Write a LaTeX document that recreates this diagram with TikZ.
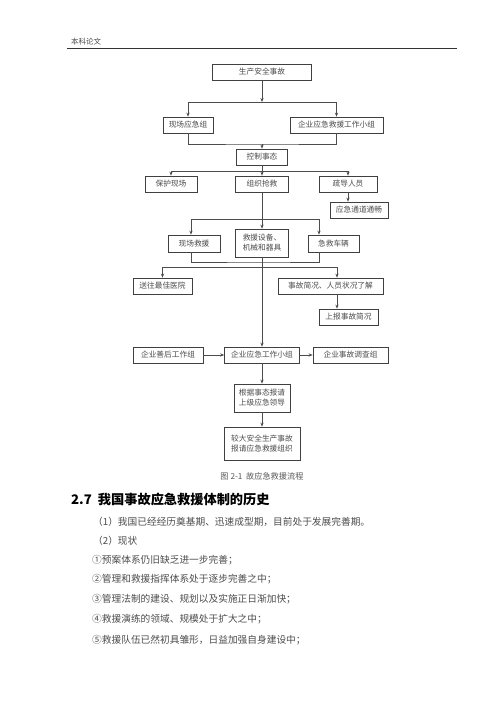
\documentclass[tikz,border=0pt]{standalone}
\usepackage{fontspec}
\newfontfamily\cjk{Noto Sans CJK SC}
\usetikzlibrary{arrows.meta}
\begin{document}
\begin{tikzpicture}[>={Stealth[length=4pt,width=3.2pt]},x=1pt,y=-1pt,
box/.style={draw=black!75,line width=.7pt,inner sep=0pt,minimum height=16pt,align=center,text=black!70,font=\cjk\fontsize{7.7}{10}\selectfont},
conn/.style={draw=black!70,line width=.7pt},
body/.style={anchor=west,inner sep=0pt,text=black!70,font=\cjk\fontsize{9.7}{12}\selectfont}]
\useasboundingbox[fill=white](0,0) rectangle (500,707);
\node[anchor=west,inner sep=0pt,text=black!70,font=\cjk\fontsize{7.5}{9}\selectfont](hdr) at (71,42){本科论文};
\draw[line width=.9pt,black!80](67,48)--(457,48);

\node[box,minimum width=99pt](acc) at (262,72){生产安全事故};
\node[box,minimum width=50pt](site) at (188,125){现场应急组};
\node[box,minimum width=93pt](corp) at (336.5,125){企业应急救援工作小组};
\node[box,minimum width=51pt](ctrl) at (262,157){控制事态};
\node[box,minimum width=52pt](prot) at (171,184){保护现场};
\node[box,minimum width=53pt](org) at (262,184){组织抢救};
\node[box,minimum width=58pt](evac) at (348,184){疏导人员};
\node[box,minimum width=58pt](chan) at (359,210){应急通道通畅};
\node[box,minimum width=52pt,minimum height=17pt](resc) at (194,243.5){现场救援};
\node[box,minimum width=53pt,minimum height=28pt](equip) at (262,243){救援设备、\\机械和器具};
\node[box,minimum width=51pt,minimum height=17pt](amb) at (333.5,243.5){急救车辆};
\node[box,minimum width=59pt](hosp) at (162.5,286){送往最佳医院};
\node[box,minimum width=105pt](info) at (330.5,286){事故简况、人员状况了解};
\node[box,minimum width=59pt](rep) at (348.5,317){上报事故简况};
\node[box,minimum width=70pt](after) at (168,355){企业善后工作组};
\node[box,minimum width=75pt](team) at (262,355){企业应急工作小组};
\node[box,minimum width=75pt](inv) at (350.5,355){企业事故调查组};
\node[box,minimum width=56pt,minimum height=28pt](lead) at (262,398){根据事态报请\\上级应急领导};
\node[box,minimum width=76pt,minimum height=33pt](big) at (262,443.5){较大安全生产事故\\报请应急救援组织};

\coordinate(j1) at (262,102);
\coordinate(j2) at (262,144);
\coordinate(j3) at (262,171);
\coordinate(j4) at (262,219);
\coordinate(j5) at (262,262);
\coordinate(j6) at (262,267);
\draw[conn,->](acc)--(j1);
\draw[conn,->](j1)-|(site);
\draw[conn,->](j1)-|(corp);
\draw[conn](site)|-(j2)-|(corp);
\draw[conn,->](j2)--(ctrl);
\draw[conn](ctrl)--(j3);
\draw[conn,->](j3)-|(prot);
\draw[conn,->](j3)--(org);
\draw[conn,->](j3)-|(evac);
\draw[conn,->](evac)--(evac|-chan.north);
\draw[conn,->](org)--(equip);
\draw[conn,->](j4)-|([xshift=-3pt]resc.north);
\draw[conn,->](j4)-|([xshift=-14.5pt]amb.north);
\draw[conn]([xshift=-3pt]resc.south)|-(j5)-|([xshift=-14.5pt]amb.south);
\draw[conn,->](j6)-|(hosp);
\draw[conn,->](j6)-|([xshift=6.5pt]info.north);
\draw[conn,->]([xshift=6.5pt]info.south)--([xshift=-11.5pt]rep.north);
\draw[conn,->](equip)--(team);
\draw[conn,->](after)--(team);
\draw[conn,->](team)--(inv);
\draw[conn,->](team)--(lead);
\draw[conn,->](lead)--(big);

\node[inner sep=0pt,text=black!65,font=\cjk\fontsize{8.2}{10}\selectfont](cap) at (262,476){图 2-1\ \ 故应急救援流程};
\node[anchor=west,inner sep=0pt,font=\cjk\bfseries\fontsize{13.2}{16}\selectfont](sec) at (71,499){2.7\ \ 我国事故应急救援体制的历史};
\node[body](p1) at (93,522){（1）我国已经经历奠基期、迅速成型期，目前处于发展完善期。};
\node[body](p2) at (93,541){（2）现状};
\node[body](s1) at (92,560){①预案体系仍旧缺乏进一步完善；};
\node[body](s2) at (92,579){②管理和救援指挥体系处于逐步完善之中；};
\node[body](s3) at (92,599){③管理法制的建设、规划以及实施正日渐加快；};
\node[body](s4) at (92,619){④救援演练的领域、规模处于扩大之中；};
\node[body](s5) at (92,640){⑤救援队伍已然初具雏形，日益加强自身建设中；};
\end{tikzpicture}
\end{document}
